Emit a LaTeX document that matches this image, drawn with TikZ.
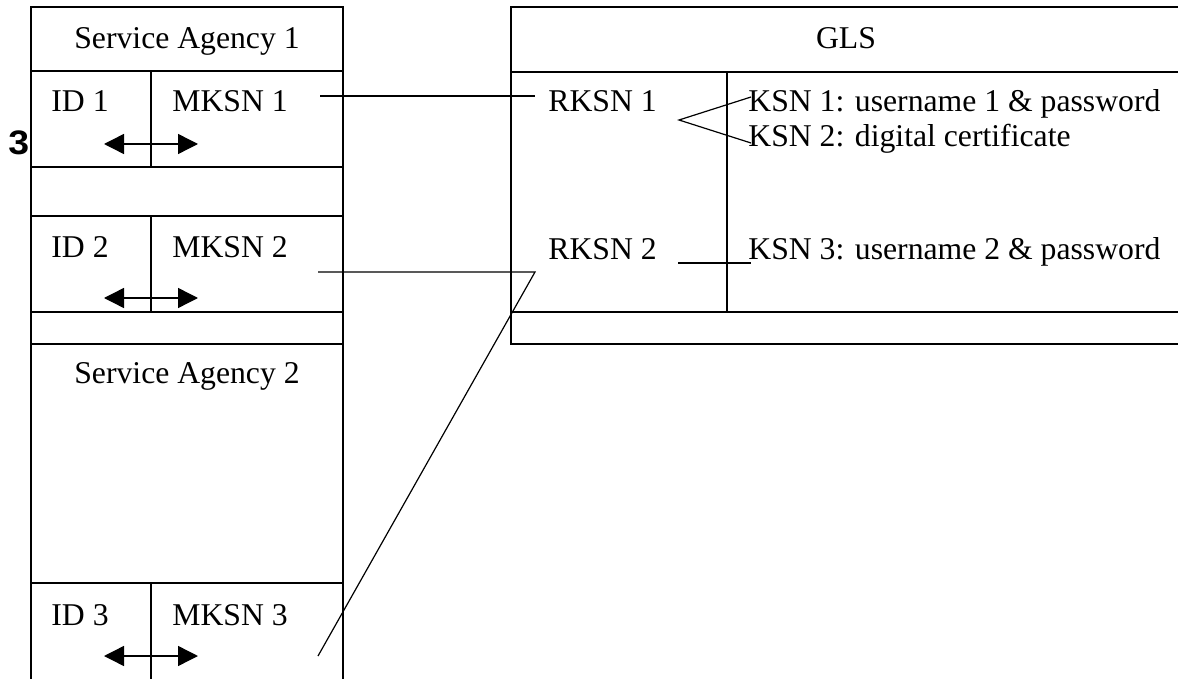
\documentclass[tikz,border=0pt]{standalone}
\usepackage{fontspec}
\setmainfont{Liberation Serif}
\newfontfamily\labelsans{Liberation Sans}
\usetikzlibrary{arrows.meta}
\begin{document}
\begin{tikzpicture}[x=0.5pt,y=-0.5pt,
  frame/.style={line width=0.75pt},
  link/.style={line width=0.6pt},
  txt/.style={anchor=base west, inner sep=0pt, font=\fontsize{15.85pt}{18pt}\selectfont},
  ctxt/.style={anchor=base, inner sep=0pt, font=\fontsize{15.85pt}{18pt}\selectfont},
  idarrow/.style={{Triangle[length=10pt,width=10pt]}-{Triangle[length=10pt,width=10pt]}, line width=0.7pt}]
\useasboundingbox (0,0) rectangle (1178,679);

% ---- left column: the service agencies ----
\draw[frame] (31,679) -- (31,7) -- (343,7) -- (343,679);
\foreach \yy in {71,167,216,312,344,583}
  \draw[frame] (31,\yy) -- (343,\yy);
\draw[frame] (151,71) -- (151,167);
\draw[frame] (151,216) -- (151,312);
\draw[frame] (151,583) -- (151,679);

% ---- right block: GLS ----
\draw[frame] (1178,7) -- (511,7) -- (511,344) -- (1178,344);
\draw[frame] (511,72) -- (1178,72);
\draw[frame] (511,312) -- (1178,312);
\draw[frame] (727,72) -- (727,312);

% ---- labels ----
\node[ctxt] (sa1) at (187,49) {Service Agency 1};
\node[txt] (id1) at (51,112) {ID 1};
\node[txt] (mk1) at (172,112) {MKSN 1};
\node[txt] (id2) at (51,258) {ID 2};
\node[txt] (mk2) at (172,258) {MKSN 2};
\node[ctxt] (sa2) at (187,383) {Service Agency 2};
\node[txt] (id3) at (51,625) {ID 3};
\node[txt] (mk3) at (172,625) {MKSN 3};
\node[ctxt] (gls) at (846,49) {GLS};
\node[txt] (rk1) at (548,112) {RKSN 1};
\node[txt] (ks1) at (748,112) {KSN 1: username 1 \& password};
\node[txt] (ks2) at (748,147) {KSN 2: digital certificate};
\node[txt] (rk2) at (548,260) {RKSN 2};
\node[txt] (ks3) at (748,260) {KSN 3: username 2 \& password};
\node[anchor=base west, inner sep=0pt, xscale=1.1,
      font=\labelsans\bfseries\fontsize{17pt}{19pt}\selectfont] (num) at (8,155) {3};

% ---- ID <-> MKSN arrows ----
\coordinate (a1l) at (104,144); \coordinate (a1r) at (198,144);
\coordinate (a2l) at (104,298); \coordinate (a2r) at (198,298);
\coordinate (a3l) at (104,656); \coordinate (a3r) at (198,656);
\draw[idarrow] (a1l) -- (a1r);
\draw[idarrow] (a2l) -- (a2r);
\draw[idarrow] (a3l) -- (a3r);

% ---- links between the MKSNs, RKSNs and KSNs ----
\coordinate (mk1e) at (320,96);  \coordinate (rk1w) at (535,96);
\draw[link] (mk1e) -- (rk1w);

\coordinate (fan) at (679,120);
\coordinate (k1w) at (751,97);   \coordinate (k2w) at (751,143);
\draw[link] (k1w) -- (fan) -- (k2w);

\coordinate (rk2e) at (678,263); \coordinate (k3w) at (751,263);
\draw[link] (rk2e) -- (k3w);

\coordinate (mk2e) at (318,272); \coordinate (bend) at (535,272);
\coordinate (mk3e) at (318,656);
\draw[link] (mk2e) -- (bend) -- (mk3e);
\end{tikzpicture}
\end{document}
